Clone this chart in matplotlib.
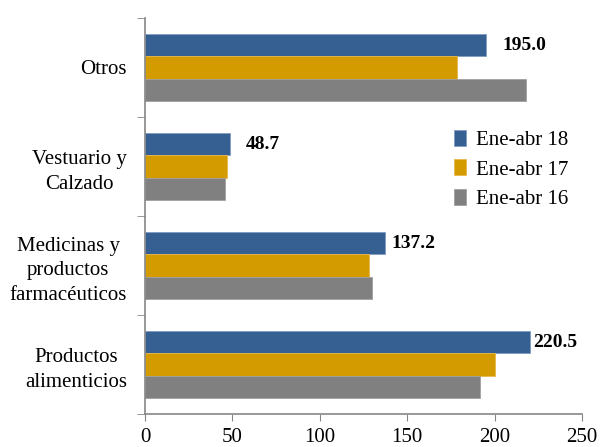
import matplotlib.pyplot as plt
import numpy as np

# categories from bottom to top
categories = ['Productos\nalimenticios', 'Medicinas y\nproductos\nfarmacéuticos',
              'Vestuario y\nCalzado', 'Otros']
series = ['Ene-abr 18', 'Ene-abr 17', 'Ene-abr 16']
ene_abr_18 = [220.5, 137.2, 48.7, 195.0]
ene_abr_17 = [200.5, 128.0, 47.0, 178.5]
ene_abr_16 = [191.5, 130.0, 45.5, 218.0]
colors = ['#376092', '#D39B00', '#808080']
edges = ['#7F9DC4', '#E8B84A', '#A0A0A0']
label_pad = [2, 5, 11, 12]   # offsets (pt) of the value labels, as in the original

plt.rcParams['font.family'] = ['Liberation Serif', 'DejaVu Serif']

fig = plt.figure(figsize=(6.03, 4.47), dpi=100)
ax = fig.add_axes([0.2405, 0.0738, 0.7245, 0.886])

y = np.arange(len(categories))
h = 0.225
values = [ene_abr_18, ene_abr_17, ene_abr_16]
for i, (vals, name) in enumerate(zip(values, series)):
    ax.barh(y + (1 - i) * h, vals, height=h, color=colors[i], label=name,
            edgecolor=edges[i], linewidth=0.6)

# data labels on the latest period
for yi, v, p in zip(y, ene_abr_18, label_pad):
    ax.annotate('%.1f' % v, (v, yi + h), xytext=(p, 0), textcoords='offset points',
                va='center', ha='left', fontsize=14, fontweight='bold')

ax.set_xlim(0, 250)
ax.set_ylim(-0.5, len(categories) - 0.5)
ax.set_xticks([0, 50, 100, 150, 200, 250])
ax.set_yticks(y)
ax.set_yticklabels(categories)
for lab in ax.get_yticklabels():
    lab.set_multialignment('center')
    lab.set_linespacing(1.4)
ax.set_yticks(np.arange(-0.5, len(categories)), minor=True)
ax.tick_params(axis='y', which='major', length=0, pad=13, labelsize=15)
ax.tick_params(axis='y', which='minor', length=6, color='#868686')
ax.tick_params(axis='x', length=5, color='#868686', labelsize=15, pad=5)

for s in ['top', 'right']:
    ax.spines[s].set_visible(False)
for s in ['left', 'bottom']:
    ax.spines[s].set_color('#868686')
    ax.spines[s].set_linewidth(1.2)

ax.legend(loc='upper left', bbox_to_anchor=(0.665, 0.765), frameon=False,
          fontsize=15, handlelength=0.55, handleheight=0.8, handletextpad=0.5,
          labelspacing=0.45)

fig.savefig('out.png', dpi=100)
